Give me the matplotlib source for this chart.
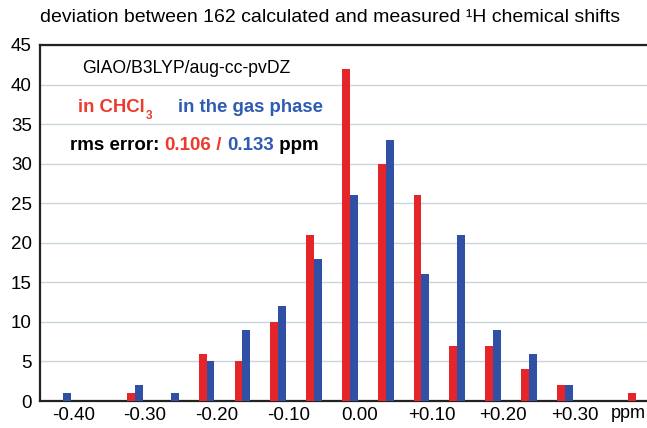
import numpy as np
import matplotlib
matplotlib.use("Agg")
import matplotlib.pyplot as plt

plt.rcParams["font.family"] = ["Liberation Sans", "DejaVu Sans"]

# bins of deviation (ppm), step 0.05
bins = ["-0.40", "-0.35", "-0.30", "-0.25", "-0.20", "-0.15", "-0.10", "-0.05", "0.00",
        "+0.05", "+0.10", "+0.15", "+0.20", "+0.25", "+0.30", "+0.35", "+0.40"]
chcl3 = [0, 0, 1, 0, 6, 5, 10, 21, 42, 30, 26, 7, 7, 4, 2, 0, 1]
gas = [1, 0, 2, 1, 5, 9, 12, 18, 26, 33, 16, 21, 9, 6, 2, 0, 0]
tick_labels = ["-0.40", "-0.30", "-0.20", "-0.10", "0.00", "+0.10", "+0.20", "+0.30"]

red = "#e4262a"
blue = "#3050a6"
txt_red = "#ee3a2a"
txt_blue = "#2f5cb3"

fig = plt.figure(figsize=(6.47, 4.28), dpi=100)
ax = fig.add_axes([0.062, 0.063, 0.938, 0.832])

x = np.arange(len(bins))
w = 0.22
ax.bar(x - w / 2, chcl3, width=w, color=red, zorder=3)
ax.bar(x + w / 2, gas, width=w, color=blue, zorder=3)

ax.set_xlim(-0.65, 16.3)
ax.set_ylim(0, 45)
ax.set_yticks(range(0, 50, 5))
ax.set_xticks(np.arange(0, 16, 2) + 0.28)
ax.set_xticklabels(tick_labels)
ax.tick_params(length=0, labelsize=13.5, pad=4)
ax.tick_params(axis="y", pad=6)
ax.grid(axis="y", color="#c9d5dd", linewidth=1, zorder=0)

for s in ["left", "bottom", "top"]:
    ax.spines[s].set_linewidth(1.6)
    ax.spines[s].set_color("#222222")
ax.spines["right"].set_visible(False)

fig.text(0.998, 0.063 - 0.0094, "ppm", ha="right", va="top", fontsize=13)

fig.text(0.51, 0.958, "deviation between 162 calculated and measured \u00b9H chemical shifts",
         ha="center", va="center", fontsize=14)

fig.text(0.288, 0.839, "GIAO/B3LYP/aug-cc-pvDZ", ha="center", va="center", fontsize=12.7)

c1 = fig.text(0.121, 0.738, "in CHCl", color=txt_red, fontweight="bold",
              fontsize=13.4, va="baseline")
ax.annotate("3", xy=(1, 0), xycoords=c1, xytext=(0.5, -4), textcoords="offset points",
            color=txt_red, fontweight="bold", fontsize=8.5, va="bottom")
fig.text(0.275, 0.738, "in the gas phase", color=txt_blue, fontweight="bold",
         fontsize=13.4, va="baseline")

r1 = fig.text(0.108, 0.65, "rms error: ", fontweight="bold", fontsize=13.5, va="baseline")
r2 = ax.annotate("0.106", xy=(1, 0), xycoords=r1, color=txt_red, fontweight="bold",
                 fontsize=13.5, va="bottom")
r3 = ax.annotate(" / ", xy=(1, 0), xycoords=r2, color=txt_red, fontweight="bold",
                 fontsize=13.5, va="bottom")
r4 = ax.annotate("0.133", xy=(1, 0), xycoords=r3, color=txt_blue, fontweight="bold",
                 fontsize=13.5, va="bottom")
ax.annotate(" ppm", xy=(1, 0), xycoords=r4, fontweight="bold", fontsize=13.5, va="bottom")

fig.savefig("out.png", dpi=100)
